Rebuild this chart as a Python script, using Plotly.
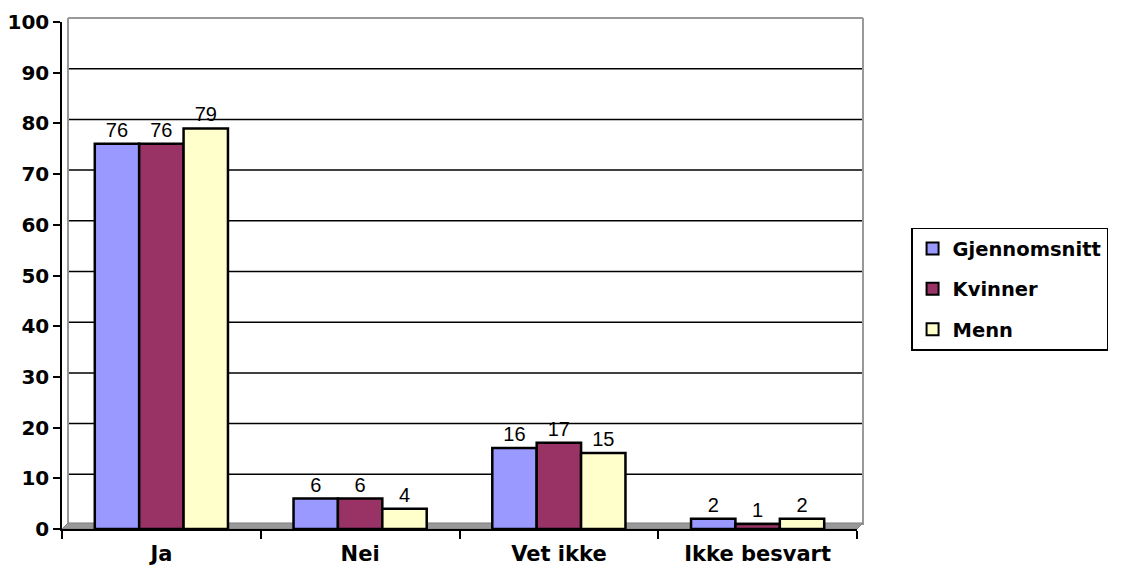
import plotly.graph_objects as go

categories = ["Ja", "Nei", "Vet ikke", "Ikke besvart"]
series_names = ["Gjennomsnitt", "Kvinner", "Menn"]
gjennomsnitt = [76, 6, 16, 2]
kvinner = [76, 6, 17, 1]
menn = [79, 4, 15, 2]
y_ticks = [0, 10, 20, 30, 40, 50, 60, 70, 80, 90, 100]

values = [gjennomsnitt, kvinner, menn]
colors = ["#9999FF", "#993366", "#FFFFCC"]

fig = go.Figure()
for name, vals, col in zip(series_names, values, colors):
    fig.add_trace(go.Bar(
        x=categories, y=vals, name=name, legendgroup=name,
        marker=dict(color=col, line=dict(color="black", width=2.5)),
        text=[str(v) for v in vals], textposition="outside",
        textfont=dict(family="Liberation Sans, Arial", size=20, color="black"),
        cliponaxis=False,
    ))

# 3D-like back wall and gridlines
W, H = 795.0, 507.0
dx, dy = 6 / W, 4 / H
shapes = []
for v in y_ticks[1:-1]:
    shapes.append(dict(type="line", xref="paper", yref="paper",
                       x0=dx, x1=1 + dx, y0=v / 100 + dy, y1=v / 100 + dy,
                       line=dict(color="black", width=1.5), layer="below"))
shapes.append(dict(type="line", xref="paper", yref="paper",
                   x0=dx, x1=1 + dx, y0=1 + dy, y1=1 + dy,
                   line=dict(color="#999999", width=2), layer="below"))
shapes.append(dict(type="line", xref="paper", yref="paper",
                   x0=1 + dx, x1=1 + dx, y0=dy, y1=1 + dy,
                   line=dict(color="#999999", width=2), layer="below"))
shapes.append(dict(type="line", xref="paper", yref="paper",
                   x0=dx, x1=dx, y0=dy, y1=1 + dy,
                   line=dict(color="#999999", width=2), layer="below"))
shapes.append(dict(type="path", xref="paper", yref="paper",
                   path=f"M 0 0 L 1 0 L {1+dx} {dy+0.004} L {dx} {dy+0.004} Z",
                   fillcolor="#999999", line=dict(color="#808080", width=1), layer="below"))

fig.update_layout(
    width=1106, height=557,
    margin=dict(l=54, r=257, t=14, b=36, autoexpand=False),
    paper_bgcolor="white", plot_bgcolor="white",
    barmode="group", bargap=0.33, bargroupgap=0,
    shapes=shapes,
    font=dict(family="DejaVu Sans, Arial", color="black"),
    legend=dict(
        x=1.068, y=0.594, xanchor="left", yanchor="top",
        bordercolor="black", borderwidth=1.5, bgcolor="white",
        font=dict(family="DejaVu Sans, Arial", size=19.5, color="black", weight="bold"),
        traceorder="grouped", tracegroupgap=12,
        itemsizing="constant", itemwidth=30,
    ),
    xaxis=dict(
        showline=True, linecolor="black", linewidth=1.5,
        ticks="outside", tickson="boundaries", ticklen=8, tickcolor="black", tickwidth=1.5,
        tickfont=dict(family="DejaVu Sans, Arial", size=21, color="black", weight="bold"),
        ticklabelstandoff=5,
        showgrid=False, fixedrange=True,
    ),
    yaxis=dict(
        range=[0, 100], tickvals=y_ticks,
        showline=True, linecolor="black", linewidth=1.5,
        ticks="outside", ticklen=7, tickcolor="black", tickwidth=1.5,
        tickfont=dict(family="DejaVu Sans, Arial", size=20, color="black", weight="bold"),
        showgrid=False, zeroline=False,
    ),
)

fig.write_html("out.html")
